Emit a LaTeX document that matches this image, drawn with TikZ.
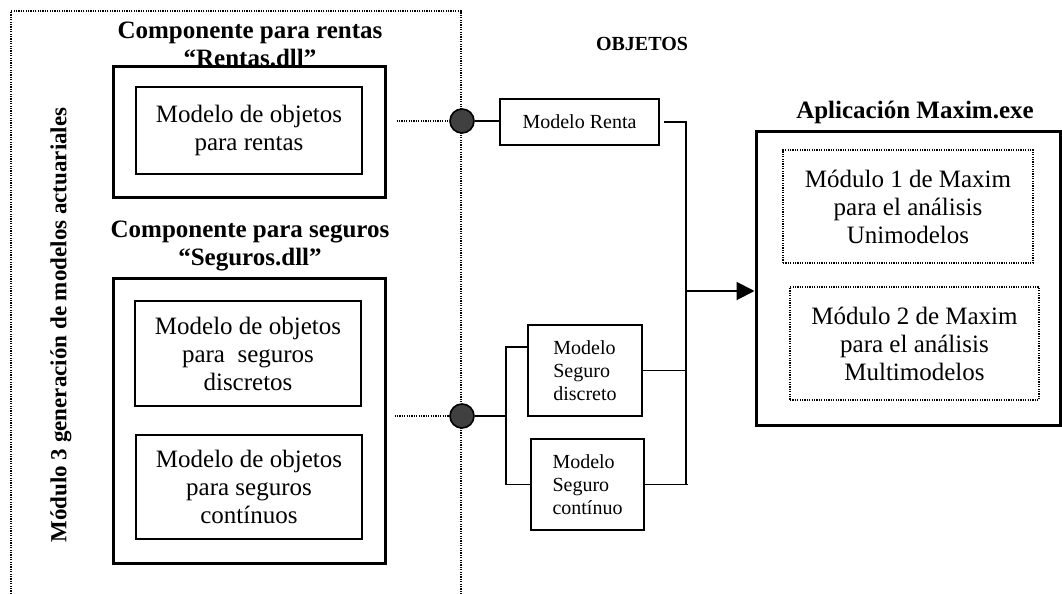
\documentclass[tikz,border=0pt]{standalone}
\usepackage{fontspec}
\setmainfont{Liberation Serif}
\usetikzlibrary{arrows.meta,calc}
\begin{document}
\begin{tikzpicture}[x=0.5pt,y=-0.5pt,
  big/.style={draw,line width=1.5pt,rectangle},
  inner/.style={draw,line width=1pt,rectangle,align=center,font=\fontsize{12.5}{14}\selectfont},
  obj/.style={draw,line width=1pt,rectangle,align=left,font=\fontsize{10}{11.5}\selectfont},
  modbox/.style={draw,line width=0.6pt,dash pattern=on 0.6pt off 0.6pt,align=center,font=\fontsize{12.5}{14}\selectfont},
  title/.style={align=center,inner sep=0pt,font=\bfseries\fontsize{12.5}{14}\selectfont},
  dotline/.style={line width=0.6pt,dash pattern=on 0.6pt off 0.6pt},
  link/.style={line width=0.8pt},
  plug/.style={draw,circle,fill=black!75,line width=0.8pt,minimum size=12pt,inner sep=0pt}]
\useasboundingbox (0,0) rectangle (1062,594);

% frame of module 3
\draw[dotline] (11,594) -- (11,11) -- (461,11) -- (461,594);
\node[title,rotate=90,font=\bfseries\fontsize{11.5}{14}\selectfont] (m3) at (61,325) {Módulo 3 generación de modelos actuariales};

% component for rentas
\node[title,anchor=south] (t1) at (250,67) {Componente para rentas\\“Rentas.dll”};
\node[big,minimum width=136pt,minimum height=65.5pt] (rentas) at (249,131.5) {};
\node[inner,minimum width=113pt,minimum height=43.5pt] (r1) at (249,130.5) {Modelo de objetos\\para rentas};

% component for seguros
\node[title,anchor=south] (t2) at (250,271) {Componente para seguros\\“Seguros.dll”};
\node[big,minimum width=136pt,minimum height=142.5pt] (seguros) at (249,420.5) {};
\node[inner,minimum width=113pt,minimum height=52.5pt] (s1) at (248,353.5) {Modelo de objetos\\para~ seguros\\discretos};
\node[inner,minimum width=113pt,minimum height=52pt] (s2) at (249,487) {Modelo de objetos\\para seguros\\contínuos};

% objects
\node[title,font=\bfseries\fontsize{10}{12}\selectfont] (obj) at (642,44) {OBJETOS};
\node[obj,align=center,minimum width=79.5pt,minimum height=23pt] (renta) at (579.5,122) {Modelo Renta};
\node[obj,minimum width=57pt,minimum height=45.5pt] (discreto) at (585,370.5) {Modelo\\Seguro\\discreto};
\node[obj,minimum width=56.5pt,minimum height=45.5pt] (continuo) at (587.5,484.5) {Modelo\\Seguro\\contínuo};

% application
\node[title] (t3) at (915,112) {Aplicación Maxim.exe};
\node[big,minimum width=152pt,minimum height=147pt] (maxim) at (908,278) {};
\node[modbox,minimum width=125pt,minimum height=56.5pt] (mod1) at (908,206.5) {Módulo 1 de Maxim\\para el análisis\\Unimodelos};
\node[modbox,minimum width=124.5pt,minimum height=56.5pt] (mod2) at (914.5,343.5) {Módulo 2 de Maxim\\para el análisis\\Multimodelos};

\node[plug] (p1) at (462,121) {};
\node[plug] (p2) at (462,416) {};
\coordinate (bus) at (686,291);
\coordinate (fork) at (506,416);

\draw[dotline,shorten <=5pt] (rentas.east |- p1) -- (p1);
\draw[dotline,shorten <=4pt] (seguros.east |- p2) -- (p2);
\draw[link] (p1) -- (p1 -| renta.west);
\draw[link,shorten <=2pt] (renta.east) -- (renta.east -| bus) -- (continuo.east -| bus);
\draw[link] (discreto.east) -- (discreto.east -| bus);
\draw[link] (continuo.east) -- ([xshift=1pt]continuo.east -| bus);
\draw[link] (p2) -- (fork);
\draw[link] ($(discreto.north west)!0.25!(discreto.south west)$) -| (fork) |- (continuo.west);
\draw[line width=1pt,-{Triangle[length=9pt,width=9pt]}] (bus) -- (bus -| maxim.west);
\end{tikzpicture}
\end{document}
